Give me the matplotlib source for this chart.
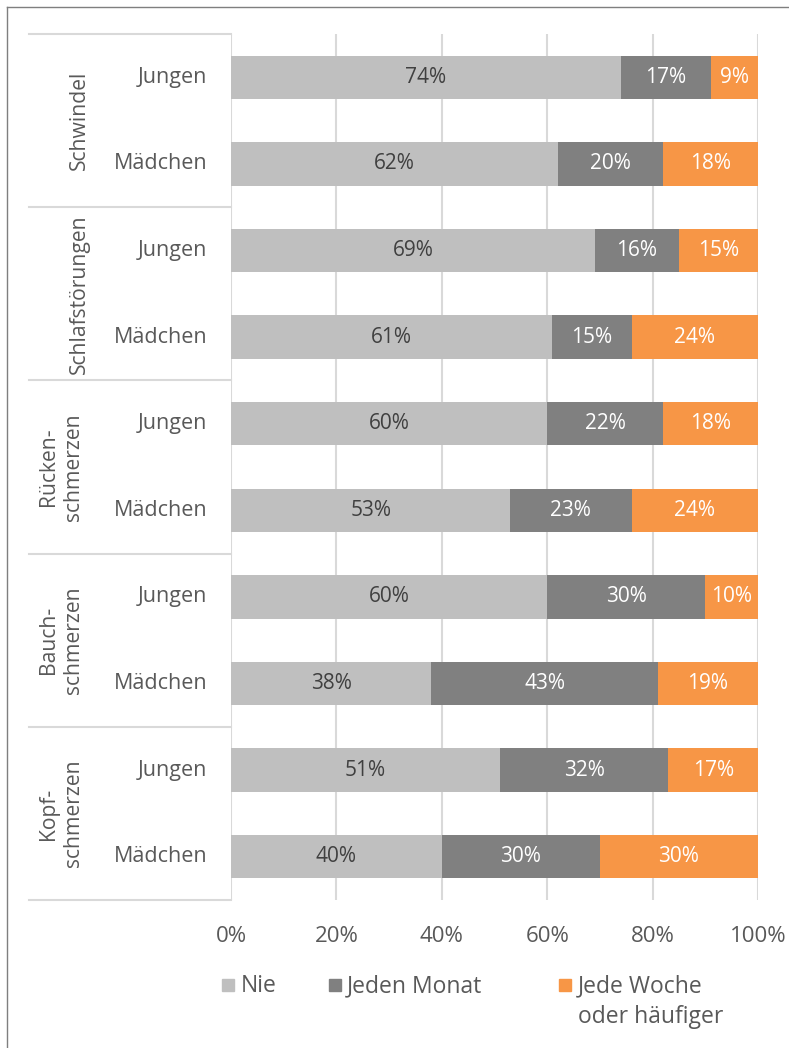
import matplotlib.pyplot as plt
import matplotlib.transforms as mtransforms
from matplotlib.lines import Line2D
from matplotlib.patches import Rectangle

plt.rcParams['font.family'] = ['Open Sans', 'DejaVu Sans']

# Daten: Anteile in Prozent, je Beschwerde erst Jungen, dann Mädchen
gruppen = ["Schwindel", "Schlafstörungen", "Rücken-\nschmerzen",
           "Bauch-\nschmerzen", "Kopf-\nschmerzen"]
geschlecht = ["Jungen", "Mädchen"]
serien = ["Nie", "Jeden Monat", "Jede Woche\noder häufiger"]

nie = [74, 62, 69, 61, 60, 53, 60, 38, 51, 40]
monat = [17, 20, 16, 15, 22, 23, 30, 43, 32, 30]
woche = [9, 18, 15, 24, 18, 24, 10, 19, 17, 30]

farben = ["#BFBFBF", "#808080", "#F79646"]
textfarben = ["#404040", "white", "white"]
grau_text = "#595959"
linie = "#D9D9D9"

W, H = 789, 1048
fig = plt.figure(figsize=(W / 100, H / 100), dpi=100)
ax = fig.add_axes([231 / W, 1 - 900 / H, (758 - 231) / W, (900 - 34) / H])

y = list(range(len(nie)))
links = [0] * len(nie)
for werte, farbe, tf in zip([nie, monat, woche], farben, textfarben):
    bars = ax.barh(y, werte, left=links, height=0.5, color=farbe, zorder=3)
    ax.bar_label(bars, labels=[f"{v}%" for v in werte], label_type="center",
                 color=tf, fontsize=15)
    links = [a + b for a, b in zip(links, werte)]

ax.set_xlim(0, 100)
ax.set_ylim(len(nie) - 0.5, -0.5)
ax.set_xticks(range(0, 101, 20))
ax.set_xticklabels([f"{t}%" for t in range(0, 101, 20)], color=grau_text, fontsize=16)
ax.tick_params(axis="x", length=0, pad=19)
ax.set_yticks([])
for s in ax.spines.values():
    s.set_visible(False)
ax.grid(axis="x", color=linie, lw=1.5, zorder=0)

# Beschriftung links: Geschlecht, Beschwerde und Trennlinien
trans = mtransforms.blended_transform_factory(ax.transAxes, ax.transData)
breite = 758 - 231
for i in y:
    ax.text((207 - 231) / breite, i, geschlecht[i % 2], transform=trans,
            ha="right", va="center", color=grau_text, fontsize=15.5)
for g, name in enumerate(gruppen):
    xg = 79 if "\n" not in name else 61
    ax.text((xg - 231) / breite, 2 * g + 0.5, name, transform=trans, rotation=90,
            ha="center", va="center", color=grau_text, fontsize=15.2,
            linespacing=1.2)
for b in range(len(gruppen) + 1):
    ax.add_line(Line2D([(29 - 231) / breite, 0], [2 * b - 0.5] * 2, transform=trans,
                       color=linie, lw=1.5, clip_on=False))

# Legende
for (xq, xt), name, farbe in zip([(222, 241), (329, 347), (559, 578)], serien, farben):
    fig.patches.append(Rectangle((xq / W, 1 - 991 / H), 12 / W, 12 / H,
                                 transform=fig.transFigure, color=farbe))
    fig.text(xt / W, 1 - 974 / H, name, ha="left", va="top", color=grau_text,
             fontsize=16.5, linespacing=1.4)

# Rahmen oben und links
fig.add_artist(Line2D([7 / W, 1], [1 - 7 / H] * 2, color="#7F7F7F", lw=1))
fig.add_artist(Line2D([7 / W] * 2, [0, 1 - 7 / H], color="#7F7F7F", lw=1))

fig.savefig("out.png", dpi=100)
